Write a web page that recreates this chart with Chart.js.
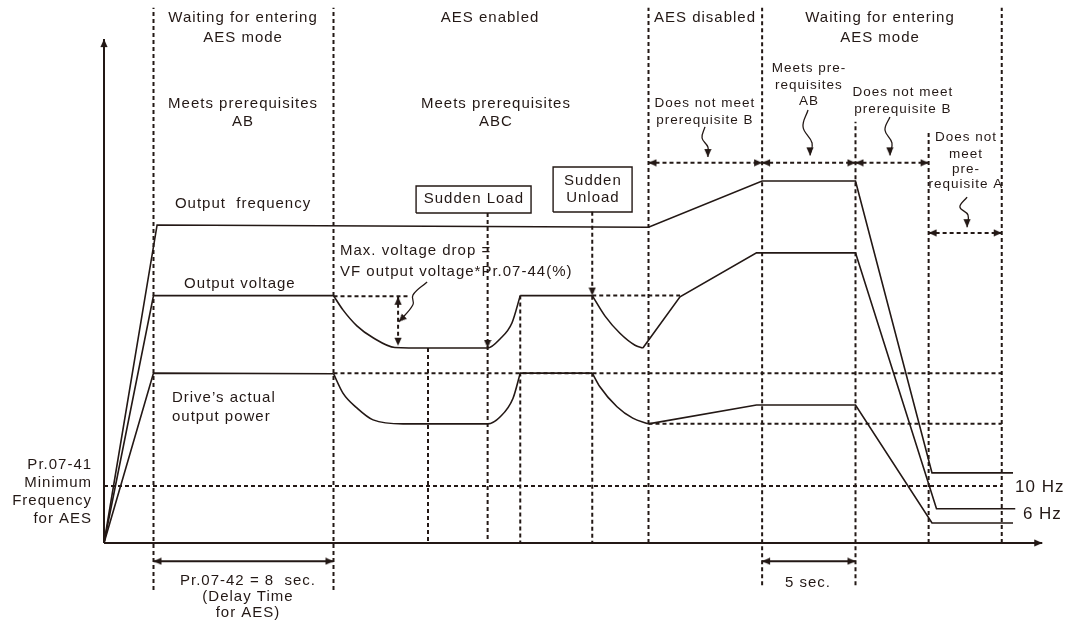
<!DOCTYPE html>
<html>
<head>
<meta charset="utf-8">
<script src="https://cdn.jsdelivr.net/npm/chart.js@4/dist/chart.umd.min.js"></script>
<style>
  html, body { margin: 0; background: #fff; }
  canvas { display: block; }
</style>
</head>
<body>
<canvas id="aesChart" width="1069" height="626"></canvas>
<script>
// x = time (s), y = level (Hz-equivalent)
const freqTime  = [0, 2.36, 24.2, 29.25, 33.4, 36.8, 40.4];
const freqLevel = [0, 55.8, 55.4, 63.5, 63.5, 12.3, 12.3];

const voltTime  = [0, 2.2, 10.2, 10.62, 11.24, 11.96, 12.93, 14.4, 17.05, 17.6, 18.13, 18.5, 21.7, 22.27, 22.93, 23.6, 23.95, 25.6, 29.0, 33.4, 37.0, 40.5];
const voltLevel = [0, 43.4, 43.4, 40.9, 38.1, 36.0, 34.3, 34.2, 34.2, 35.8, 38.6, 43.4, 43.4, 39.8, 36.8, 34.7, 34.2, 43.2, 50.9, 50.9, 6, 6];
const voltCurves = [[2, 11], [12, 16]];

const powerTime  = [0, 2.2, 10.2, 10.62, 11.24, 11.96, 13.29, 17.05, 17.6, 18.18, 18.5, 21.7, 22.04, 22.8, 23.5, 24.2, 29.0, 33.4, 36.8, 40.4];
const powerLevel = [0, 29.8, 29.7, 26.3, 23.7, 21.6, 20.9, 20.9, 22.1, 25.4, 29.8, 29.8, 27.4, 23.9, 21.9, 20.9, 24.2, 24.2, 3.5, 3.5];
const powerCurves = [[2, 10], [11, 15]];

const phaseTimes = [2.2, 10.2, 24.2, 29.25, 33.4, 36.65, 39.9];
const minFreq = 10;   // Pr.07-41
const stopFreq = 6;

const ink = '#231815';
const font = '"Liberation Sans", Arial, sans-serif';

// arrowhead: tip in the middle of the image, pointing up at rotation 0
const head = document.createElement('canvas');
head.width = 8; head.height = 18;
const hc = head.getContext('2d');
hc.fillStyle = ink;
hc.beginPath(); hc.moveTo(4, 9); hc.lineTo(7.6, 17); hc.lineTo(0.4, 17); hc.closePath(); hc.fill();

function line(data, extra) {
  return Object.assign({ data, showLine: true, borderColor: ink, borderWidth: 1.6, pointRadius: 0, tension: 0, fill: false }, extra);
}
function pts(list) { return list.map(([x, y]) => ({ x, y })); }
function arrow(list, heads, extra) {
  return line(pts(list), Object.assign({
    pointStyle: head,
    pointRadius: heads.map(h => h === null ? 0 : 5),
    pointRotation: heads.map(h => h === null ? 0 : h)
  }, extra));
}
const dotted = { borderDash: [4, 3], borderWidth: 2 };

// split a series into straight and curved pieces
function split(ts, vs, curves) {
  const isCurve = i => curves.some(([a, b]) => i >= a && i < b);
  const straight = [], curved = [];
  for (let i = 0; i < ts.length - 1; i++) {
    const target = isCurve(i) ? curved : straight;
    const last = target[target.length - 1];
    if (!last || last.x !== ts[i] || last.y !== vs[i]) {
      if (last) target.push({ x: ts[i], y: null });
      target.push({ x: ts[i], y: vs[i] });
    }
    target.push({ x: ts[i + 1], y: vs[i + 1] });
  }
  return { straight, curved };
}
const volt = split(voltTime, voltLevel, voltCurves);
const power = split(powerTime, powerLevel, powerCurves);

const phaseTop = [93.9, 93.9, 93.9, 93.9, 73.9, 72.1, 93.9];
const phaseBottom = [-8.25, -8.25, 0, -7.4, -7.4, 0, 0];

const squiggle = { tension: 0.4, borderWidth: 1.3 };

const datasets = [
  // axes
  arrow([[0, 0], [41.7, 0]], [null, 90], { borderWidth: 2 }),
  arrow([[0, 0], [0, 88.4]], [null, 0], { borderWidth: 2 }),
  // signals
  line(freqTime.map((t, i) => ({ x: t, y: freqLevel[i] }))),
  line(volt.straight),
  line(volt.curved, { cubicInterpolationMode: 'monotone' }),
  line(power.straight),
  line(power.curved, { cubicInterpolationMode: 'monotone' }),
  // phase boundaries
  ...phaseTimes.map((t, i) => line(pts([[t, phaseBottom[i]], [t, phaseTop[i]]]), dotted)),
  // event guides
  line(pts([[14.4, 34.2], [14.4, 0]]), dotted),
  arrow([[17.05, 57.9], [17.05, 34.2], [17.05, 0]], [null, 180, null], dotted),
  line(pts([[18.5, 43.4], [18.5, 0]]), dotted),
  arrow([[21.7, 58.1], [21.7, 43.4], [21.7, 0]], [null, 180, null], dotted),
  line(pts([[10.2, 43.3], [13.6, 43.3]]), dotted),
  line(pts([[21.7, 43.4], [25.6, 43.4]]), dotted),
  line(pts([[10.2, 29.8], [39.9, 29.8]]), dotted),
  line(pts([[24.2, 20.9], [39.9, 20.9]]), dotted),
  line(pts([[0, minFreq], [39.9, minFreq]]), dotted),
  arrow([[13.07, 43.2], [13.07, 34.6]], [0, 180], dotted),
  // spans
  arrow([[24.2, 66.7], [29.25, 66.7]], [270, 90], dotted),
  arrow([[29.25, 66.7], [33.4, 66.7]], [270, 90], dotted),
  arrow([[33.4, 66.7], [36.65, 66.7]], [270, 90], dotted),
  arrow([[36.65, 54.4], [39.9, 54.4]], [270, 90], dotted),
  arrow([[2.2, -3.2], [10.2, -3.2]], [270, 90], { borderWidth: 2 }),
  arrow([[29.25, -3.2], [33.4, -3.2]], [270, 90], { borderWidth: 2 }),
  // event boxes
  line(pts([[13.87, 57.89], [18.98, 57.89], [18.98, 62.63], [13.87, 62.63], [13.87, 57.89]]), { borderWidth: 1.4 }),
  line(pts([[19.96, 58.07], [23.47, 58.07], [23.47, 65.96], [19.96, 65.96], [19.96, 58.07]]), { borderWidth: 1.4 }),
  // pointers
  arrow([[14.36, 45.79], [13.73, 43.5], [13.73, 41.8], [13.1, 38.8]], [null, null, null, 225], squiggle),
  arrow([[26.71, 73.0], [26.58, 71.05], [26.84, 69.47], [26.84, 67.7]], [null, null, null, 180], squiggle),
  arrow([[31.29, 75.96], [31.07, 72.98], [31.47, 70.18], [31.38, 68.0]], [null, null, null, 180], squiggle),
  arrow([[34.93, 74.74], [34.71, 72.46], [35.02, 70.18], [34.93, 68.0]], [null, null, null, 180], squiggle),
  arrow([[38.36, 60.7], [38.04, 58.95], [38.4, 57.54], [38.36, 55.4]], [null, null, null, 180], squiggle)
];

const notes = [
  ['Waiting for entering', 6.18, 92.1],
  ['AES mode', 6.18, 88.6],
  ['AES enabled', 17.16, 92.1],
  ['AES disabled', 26.71, 92.1],
  ['Waiting for entering', 34.49, 92.1],
  ['AES mode', 34.49, 88.6],
  ['Meets prerequisites', 6.18, 77.0],
  ['AB', 6.18, 73.86],
  ['Meets prerequisites', 17.42, 77.0],
  ['ABC', 17.42, 73.86],
  ['Does not meet', 26.71, 77.19, 'center', 13.5],
  ['prerequisite B', 26.71, 74.21, 'center', 13.5],
  ['Meets pre-', 31.33, 83.33, 'center', 13.5],
  ['requisites', 31.33, 80.35, 'center', 13.5],
  ['AB', 31.33, 77.54, 'center', 13.5],
  ['Does not meet', 35.51, 79.12, 'center', 13.5],
  ['prerequisite B', 35.51, 76.14, 'center', 13.5],
  ['Does not', 38.31, 71.23, 'center', 13.5],
  ['meet', 38.31, 68.25, 'center', 13.5],
  ['pre-', 38.31, 65.61, 'center', 13.5],
  ['requisite A', 38.31, 62.98, 'center', 13.5],
  ['Output  frequency', 6.18, 59.47],
  ['Output voltage', 6.04, 45.44],
  ['Drive\u2019s actual', 3.02, 25.44, 'left'],
  ['output power', 3.02, 22.1, 'left'],
  ['Max. voltage drop =', 10.49, 51.23, 'left'],
  ['VF output voltage*Pr.07-44(%)', 10.49, 47.54, 'left'],
  ['Sudden Load', 16.44, 60.35],
  ['Sudden', 21.73, 63.51],
  ['Unload', 21.73, 60.53],
  ['Pr.07-41', -0.53, 13.68, 'right'],
  ['Minimum', -0.53, 10.53, 'right'],
  ['Frequency', -0.53, 7.37, 'right'],
  ['for AES', -0.53, 4.21, 'right'],
  ['Pr.07-42 = 8  sec.', 6.4, -6.67],
  ['(Delay Time', 6.4, -9.47],
  ['for AES)', 6.4, -12.28],
  ['5 sec.', 31.29, -7.02],
  ['10 Hz', 40.49, 9.82, 'left', 17],
  ['6 Hz', 40.84, 5.09, 'left', 17]
];

const notesPlugin = {
  id: 'notes',
  afterDatasetsDraw(chart) {
    const { ctx, scales: { x, y } } = chart;
    ctx.save();
    ctx.fillStyle = ink;
    ctx.textBaseline = 'middle';
    for (const [text, t, v, align = 'center', size = 15] of notes) {
      ctx.font = size + 'px ' + font;
      ctx.letterSpacing = '1px';
      ctx.textAlign = align;
      ctx.fillText(text, x.getPixelForValue(t), y.getPixelForValue(v));
    }
    ctx.restore();
  }
};

new Chart(document.getElementById('aesChart'), {
  type: 'scatter',
  data: { datasets },
  options: {
    responsive: false,
    animation: false,
    events: [],
    layout: { padding: 0, autoPadding: false },
    scales: {
      x: { type: 'linear', min: -104 / 22.5, max: 965 / 22.5, display: false },
      y: { type: 'linear', min: -83 / 5.7, max: 543 / 5.7, display: false }
    },
    plugins: { legend: { display: false }, tooltip: { enabled: false } }
  },
  plugins: [notesPlugin]
});
</script>
</body>
</html>
